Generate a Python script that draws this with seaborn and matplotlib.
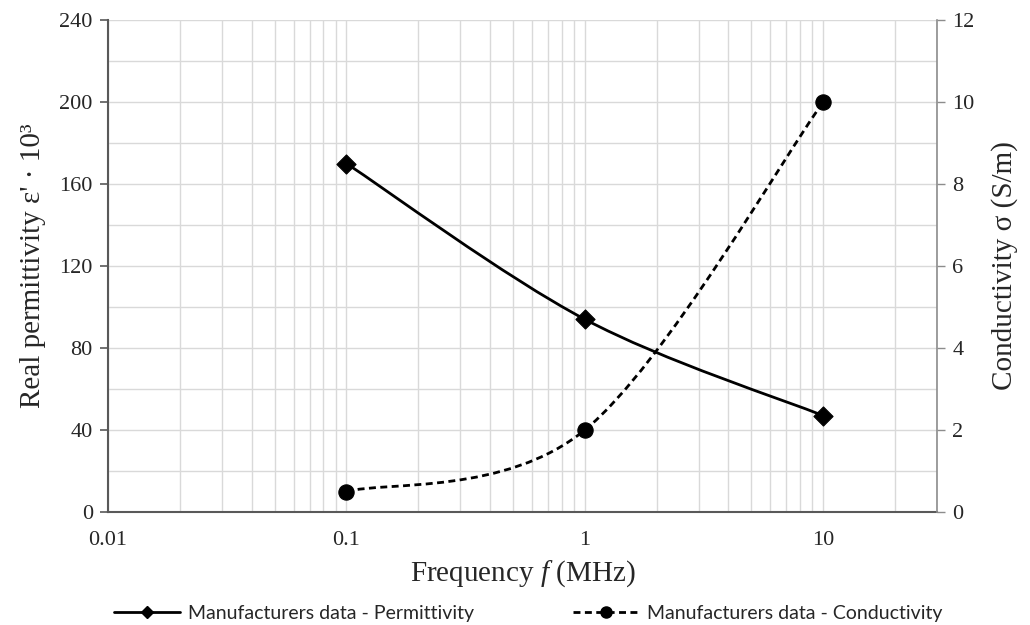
import numpy as np
import pandas as pd
import matplotlib.pyplot as plt
import seaborn as sns
from matplotlib.path import Path
from matplotlib.patches import PathPatch
from matplotlib.lines import Line2D
from matplotlib.ticker import FixedLocator, LogLocator, MultipleLocator, NullFormatter

# data
freq = [0.1, 1, 10]
permittivity = [170, 94, 47]
conductivity = [0.5, 2, 10]

x_ticks = [0.01, 0.1, 1, 10]
x_tick_labels = ["0.01", "0.1", "1", "10"]
left_ticks = [0, 40, 80, 120, 160, 200, 240]
right_ticks = [0, 2, 4, 6, 8, 10, 12]

label_perm = "Manufacturers data - Permittivity"
label_cond = "Manufacturers data - Conductivity"

df = pd.DataFrame({"freq": freq, "perm": permittivity, "cond": conductivity})

sns.set_theme(style="white")
plt.rcParams["font.family"] = ["Liberation Serif", "DejaVu Serif"]
plt.rcParams["mathtext.fontset"] = "custom"
plt.rcParams["mathtext.rm"] = "Liberation Serif"
plt.rcParams["mathtext.it"] = "Liberation Serif:italic"


def smooth_path(x, y):
    # Excel-like smoothed line (Catmull-Rom bezier) in log-x space
    pts = np.column_stack([np.log10(x), np.asarray(y, float)])
    n = len(pts)
    verts = [pts[0]]
    codes = [Path.MOVETO]
    for i in range(n - 1):
        p0 = pts[i - 1] if i > 0 else pts[i]
        p1, p2 = pts[i], pts[i + 1]
        p3 = pts[i + 2] if i + 2 < n else pts[i + 1]
        verts += [p1 + (p2 - p0) / 6, p2 - (p3 - p1) / 6, p2]
        codes += [Path.CURVE4] * 3
    verts = np.array(verts)
    verts[:, 0] = 10 ** verts[:, 0]
    return Path(verts, codes)


fig = plt.figure(figsize=(10.3, 6.25), dpi=100)
ax = fig.add_axes([0.1049, 0.1808, 0.8048, 0.7872])
ax2 = ax.twinx()

grid_c = "#d9d9d9"
ax.set_xscale("log")
ax.set_xlim(0.01, 30)
ax.set_ylim(0, 240)
ax2.set_ylim(0, 12)

ax.xaxis.set_major_locator(FixedLocator(x_ticks))
ax.set_xticklabels(x_tick_labels)
ax.xaxis.set_minor_locator(LogLocator(base=10, subs=np.arange(2, 10)))
ax.xaxis.set_minor_formatter(NullFormatter())
ax.yaxis.set_major_locator(FixedLocator(left_ticks))
ax.yaxis.set_minor_locator(MultipleLocator(20))
ax2.yaxis.set_major_locator(FixedLocator(right_ticks))

ax.grid(True, which="both", axis="both", color=grid_c, lw=1.0)
ax.set_axisbelow(True)

# lines
ax.add_patch(PathPatch(smooth_path(freq, permittivity), fill=False,
                       edgecolor="black", lw=2.0, zorder=3))
ax2.add_patch(PathPatch(smooth_path(freq, conductivity), fill=False,
                        edgecolor="black", lw=2.0, linestyle=(0, (2.5, 1.6)), zorder=3))

# markers
sns.scatterplot(data=df, x="freq", y="perm", marker="D", s=95, color="black",
                edgecolor="black", ax=ax, zorder=4, legend=False)
sns.scatterplot(data=df, x="freq", y="cond", marker="o", s=120, color="black",
                edgecolor="black", ax=ax2, zorder=4, legend=False)

# spines and ticks
ax.spines["top"].set_visible(False)
ax2.spines["top"].set_visible(False)
ax2.spines["left"].set_visible(False)
ax2.spines["bottom"].set_visible(False)
ax.spines["right"].set_visible(False)
ax.spines["left"].set_color("#595959")
ax.spines["bottom"].set_color("#595959")
ax.spines["left"].set_linewidth(1.5)
ax.spines["bottom"].set_linewidth(1.5)
ax2.spines["right"].set_color("#8c8c8c")
ax2.spines["right"].set_linewidth(1.2)

tick_font = 16
ax.tick_params(axis="both", which="major", direction="out", length=6, width=1.2,
               color="#595959", labelsize=tick_font, labelcolor="#262626", pad=5)
ax.tick_params(axis="x", which="major", pad=8)
ax.tick_params(axis="x", which="minor", length=0)
ax.tick_params(axis="y", which="minor", length=0)
ax2.tick_params(axis="y", which="major", direction="out", length=6, width=1.0,
                color="#8c8c8c", labelsize=tick_font, labelcolor="#262626", pad=5)

ax.set_xlabel("Frequency $f$ (MHz)", fontsize=21, color="#262626", labelpad=6)
ax.set_ylabel("Real permittivity ε' · 10³", fontsize=21, color="#262626", labelpad=10)
ax2.set_ylabel("Conductivity σ (S/m)", fontsize=21, color="#262626", labelpad=12)

handles = [
    Line2D([], [], color="black", lw=2.0, marker="D", markersize=6),
    Line2D([], [], color="black", lw=2.0, linestyle=(0, (2.5, 1.6)), marker="o", markersize=8),
]
fig.legend(handles, [label_perm, label_cond], loc="center", bbox_to_anchor=(0.513, 0.019),
           ncol=2, frameon=False, handlelength=3.4, handletextpad=0.4, columnspacing=5.1,
           prop={"family": "Lato", "size": 14.0})

fig.savefig("out.png", dpi=100)
